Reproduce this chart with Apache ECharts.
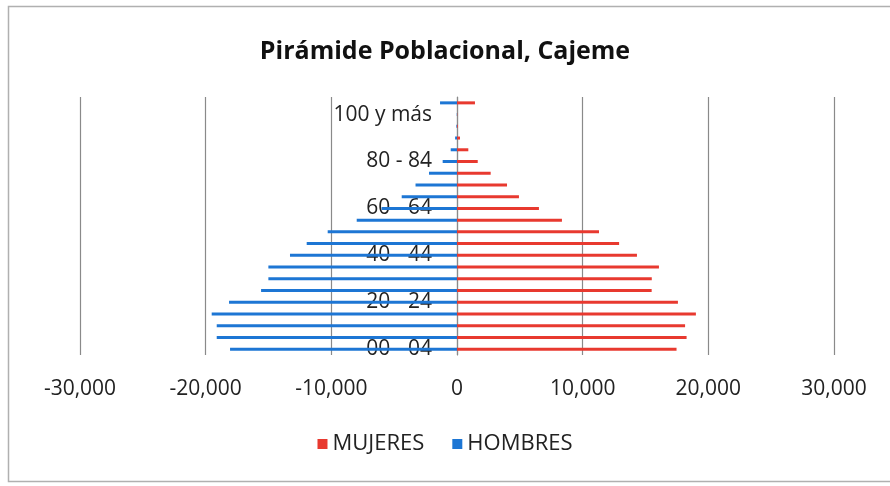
<!DOCTYPE html>
<html>
<head>
<meta charset="utf-8">
<script src="https://cdn.jsdelivr.net/npm/echarts@6/dist/echarts.min.js"></script>
<style>
  html, body { margin: 0; padding: 0; background: #fff; }
  #chart { width: 890px; height: 486px; }
</style>
</head>
<body>
<div id="chart"></div>
<script>
// Grupos de edad (de abajo hacia arriba)
const grupos = [
  "00 - 04", "05 - 09", "10 - 14", "15 - 19", "20 - 24", "25 - 29",
  "30 - 34", "35 - 39", "40 - 44", "45 - 49", "50 - 54", "55 - 59",
  "60 - 64", "65 - 69", "70 - 74", "75 - 79", "80 - 84", "85 - 89",
  "90 - 94", "95 - 99", "100 y más", "No especificado"
];

// Valores
const mujeres = [
  17470, 18270, 18150, 19010, 17580, 15490, 15500, 16070, 14320, 12900,
  11300, 8350, 6520, 4930, 3980, 2680, 1650, 900, 240, 60, 20, 1430
];
const hombres = [
  18060, 19120, 19120, 19520, 18140, 15590, 15010, 15010, 13290, 11960,
  10290, 7980, 6000, 4400, 3300, 2230, 1140, 500, 150, 50, 20, 1350
];

const FONT = "'Open Sans', 'Noto Sans', sans-serif";
const GRID_LEFT = 80;
const chart = echarts.init(document.getElementById("chart"));

// formato con comas: -30,000
function fmt(v) {
  const s = Math.abs(v).toString().replace(/\B(?=(\d{3})+(?!\d))/g, ",");
  return (v < 0 ? "-" : "") + s;
}

chart.setOption({
  animation: false,
  // marco del gráfico
  graphic: [{
    type: "rect",
    shape: { x: 8.5, y: 6.5, width: 900, height: 475 },
    style: { fill: "none", stroke: "#b0b0b0", lineWidth: 1.5 },
    silent: true
  }],
  title: {
    text: "Pirámide Poblacional, Cajeme",
    left: "center",
    top: 34,
    textStyle: { fontFamily: FONT, fontSize: 25, fontWeight: "bold", color: "#111" }
  },
  legend: {
    bottom: 26,
    left: "center",
    icon: "rect",
    itemWidth: 10,
    itemHeight: 10,
    itemGap: 28,
    textStyle: { fontFamily: FONT, fontSize: 22, color: "#222" },
    data: ["MUJERES", "HOMBRES"]
  },
  grid: { left: GRID_LEFT, right: 56, top: 97, bottom: 131, outerBoundsMode: "none" },
  xAxis: {
    type: "value",
    min: -30000,
    max: 30000,
    interval: 10000,
    axisLine: { show: false },
    axisTick: { show: false },
    axisLabel: {
      margin: 24,
      formatter: fmt,
      fontFamily: FONT,
      fontSize: 21,
      color: "#222"
    },
    splitLine: { lineStyle: { color: "#8a8a8a", width: 1.2 } }
  },
  yAxis: {
    type: "category",
    data: grupos,
    axisLine: { onZero: false, lineStyle: { color: "#8a8a8a", width: 1.2 } },
    axisTick: { show: false },
    axisLabel: {
      interval: 3,
      margin: 25,
      fontFamily: FONT,
      fontSize: 21,
      color: "#222"
    }
  },
  series: [
    {
      name: "MUJERES",
      type: "bar",
      barWidth: 3,
      barGap: "-100%",
      itemStyle: { color: "#e8392f" },
      data: mujeres
    },
    {
      name: "HOMBRES",
      type: "bar",
      barWidth: 3,
      itemStyle: { color: "#1d76d4" },
      data: hombres.map(v => -v)
    }
  ]
});

// mover el eje de categorías (línea y etiquetas) hasta el cero
const zeroX = chart.convertToPixel({ xAxisIndex: 0 }, 0);
chart.setOption({ yAxis: { offset: -(zeroX - GRID_LEFT) } });
</script>
</body>
</html>
